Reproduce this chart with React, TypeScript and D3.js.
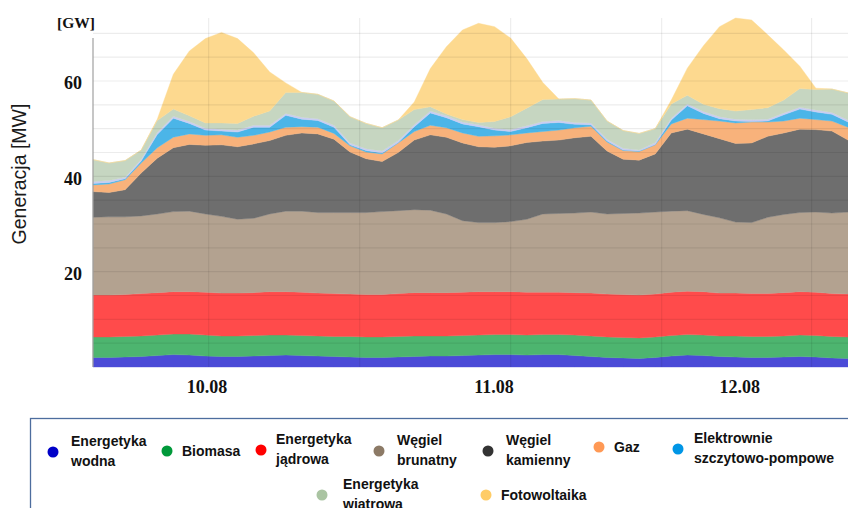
import { useEffect, useRef } from "react";
import * as d3 from "d3";

// samples every 1.5 h starting 10.08 00:00, values in GW
const hours = d3.range(48).map((i) => i * 1.5);

const hydro = [2.0, 2.0, 2.1, 2.2, 2.4, 2.6, 2.5, 2.3, 2.2, 2.2, 2.3, 2.4, 2.5, 2.4, 2.3, 2.2, 2.1, 2.0, 2.0, 2.1, 2.2, 2.3, 2.3, 2.4, 2.5, 2.6, 2.6, 2.5, 2.6, 2.6, 2.4, 2.2, 2.0, 1.9, 1.8, 2.0, 2.3, 2.5, 2.4, 2.2, 2.1, 2.0, 2.0, 2.1, 2.2, 2.1, 1.9, 1.8];
const biomass = [4.3, 4.3, 4.3, 4.3, 4.3, 4.3, 4.4, 4.4, 4.3, 4.3, 4.3, 4.3, 4.2, 4.2, 4.2, 4.2, 4.3, 4.3, 4.3, 4.3, 4.3, 4.2, 4.2, 4.2, 4.2, 4.2, 4.2, 4.2, 4.2, 4.2, 4.3, 4.3, 4.3, 4.3, 4.3, 4.3, 4.3, 4.3, 4.3, 4.3, 4.4, 4.4, 4.4, 4.4, 4.5, 4.5, 4.5, 4.5];
const nuclear = [8.8, 8.8, 8.8, 8.9, 8.9, 8.9, 8.9, 9.0, 9.0, 9.0, 9.0, 9.1, 9.1, 9.1, 9.0, 9.0, 8.9, 8.9, 8.9, 9.0, 9.1, 9.1, 9.1, 9.1, 9.1, 9.0, 9.0, 9.0, 8.9, 8.9, 8.9, 9.0, 9.0, 9.0, 9.0, 9.0, 9.1, 9.1, 9.1, 9.0, 9.0, 9.0, 9.0, 9.1, 9.1, 9.1, 9.0, 9.0];
const lignite = [16.3, 16.4, 16.3, 16.3, 16.5, 16.8, 16.9, 16.4, 16.1, 15.5, 15.6, 16.3, 16.9, 17.0, 16.9, 17.0, 17.1, 17.2, 17.4, 17.4, 17.4, 17.3, 16.5, 15.0, 14.5, 14.5, 14.7, 15.3, 16.4, 16.5, 16.7, 17.0, 16.8, 17.0, 17.2, 17.2, 17.0, 16.9, 16.2, 15.8, 14.9, 14.9, 16.0, 16.4, 16.6, 16.8, 16.9, 17.2];
const hardCoal = [5.4, 5.1, 5.7, 9.0, 11.7, 13.4, 14.0, 14.4, 15.0, 15.2, 15.6, 15.4, 15.9, 16.4, 16.5, 15.4, 12.7, 11.3, 10.5, 12.2, 14.6, 15.8, 16.1, 16.3, 15.9, 15.8, 15.9, 16.1, 15.3, 15.4, 15.8, 15.9, 13.2, 11.4, 11.1, 12.2, 16.4, 17.1, 16.9, 16.6, 16.5, 16.7, 17.0, 17.1, 17.5, 17.3, 17.2, 15.1];
const gas = [1.4, 1.8, 2.1, 2.1, 2.2, 2.2, 2.2, 2.1, 2.1, 2.0, 1.8, 1.8, 1.7, 1.3, 1.4, 1.2, 1.3, 1.4, 1.6, 2.0, 1.8, 2.0, 2.0, 2.1, 2.2, 2.4, 2.3, 2.0, 2.0, 2.1, 2.1, 2.1, 1.9, 1.8, 1.8, 1.9, 1.9, 2.3, 3.0, 3.7, 4.3, 4.4, 3.0, 2.5, 2.3, 2.1, 2.1, 2.7];
const pumped = [0.3, 0.3, 0.2, 0.4, 2.8, 4.0, 2.2, 1.1, 0.8, 1.1, 1.7, 1.0, 2.5, 1.6, 1.4, 1.3, 0.2, 0.3, 0.2, 0.1, 1.0, 2.6, 2.1, 1.9, 2.0, 1.2, 0.7, 1.1, 1.7, 1.6, 0.7, 0.3, 0.2, 0.1, 0.1, 0.1, 0.8, 2.6, 1.3, 0.5, 0.4, 0.1, 0.2, 1.3, 1.9, 1.6, 1.4, 1.1];
const other = [0.4, 0.4, 0.3, 0.4, 0.4, 0.4, 0.4, 0.4, 0.4, 0.4, 0.4, 0.4, 0.4, 0.4, 0.4, 0.4, 0.4, 0.4, 0.4, 0.4, 0.4, 0.4, 0.4, 0.4, 0.4, 0.4, 0.4, 0.4, 0.4, 0.4, 0.4, 0.4, 0.4, 0.4, 0.2, 0.4, 0.4, 0.4, 0.4, 0.4, 0.4, 0.4, 0.4, 0.4, 0.4, 0.4, 0.4, 0.4];
const wind = [4.6, 3.7, 3.5, 1.9, 2.5, 1.5, 1.2, 1.1, 1.3, 1.4, 1.9, 3.0, 4.4, 5.2, 5.1, 5.1, 5.5, 5.3, 4.9, 4.3, 3.2, 0.9, 0.4, 0.5, 0.5, 1.4, 2.7, 3.7, 4.6, 4.5, 5.0, 4.8, 3.8, 3.7, 3.5, 2.9, 3.0, 1.8, 1.5, 1.7, 1.7, 2.1, 2.4, 2.7, 3.9, 4.3, 4.9, 5.7];
const solar = [0, 0, 0, 0, 0.3, 7.3, 13.6, 17.7, 19.0, 17.8, 13.3, 8.2, 2.0, 0, 0, 0, 0, 0, 0, 0, 1.6, 8.0, 14.1, 18.8, 20.8, 19.9, 16.5, 10.4, 3.6, 0, 0, 0, 0, 0, 0, 0, 0.8, 5.7, 12.3, 17.2, 19.5, 18.8, 15.3, 10.5, 4.7, 0.3, 0, 0];

const seriesKeys = ["hydro", "biomass", "nuclear", "lignite", "hardCoal", "gas", "pumped", "other", "wind", "solar"];
const seriesValues = [hydro, biomass, nuclear, lignite, hardCoal, gas, pumped, other, wind, solar];
const seriesColors = ["#4b4bd7", "#4db56f", "#ff4b4b", "#b3a290", "#6e6e6e", "#f8b27b", "#4bb5e8", "#c9cdf2", "#c6d6c1", "#fdd98f"];

const yTickLabels = [20, 40, 60];
const gridValues = [5, 10, 15, 20, 25, 30, 35, 40, 45, 50, 55, 60, 65, 70];
const dayLabels = ["10.08", "11.08", "12.08"];
const dayLabelHours = [10.65, 37.45, 60.4];
const vGridHours = [10.8, 24.9, 39.0, 53.1, 67.1];

const legendLabels = [
  ["Energetyka", "wodna"],
  ["Biomasa"],
  ["Energetyka", "jądrowa"],
  ["Węgiel", "brunatny"],
  ["Węgiel", "kamienny"],
  ["Gaz"],
  ["Elektrownie", "szczytowo-pompowe"],
  ["Energetyka", "wiatrowa"],
  ["Fotowoltaika"],
];
const legendColors = ["#0000c8", "#00993a", "#ff0000", "#8c7a66", "#333333", "#ff9955", "#0096e6", "#aac4a2", "#ffcc66"];

// legend layout (dot centre, text start)
const legendSlots = [
  { cx: 53, cy: 452, tx: 71 },
  { cx: 167, cy: 451, tx: 182 },
  { cx: 261, cy: 450, tx: 276 },
  { cx: 379, cy: 451, tx: 397 },
  { cx: 488, cy: 451, tx: 506 },
  { cx: 599, cy: 447, tx: 614 },
  { cx: 678, cy: 449, tx: 694 },
  { cx: 322, cy: 495, tx: 343 },
  { cx: 486, cy: 495, tx: 501 },
];

const App = () => {
  const svgRef = useRef<SVGSVGElement>(null);

  useEffect(() => {
    const svg = d3.select(svgRef.current);
    svg.selectAll("*").remove();

    const x = d3.scaleLinear().domain([0, 70.5]).range([93, 848]);
    const y = d3.scaleLinear().domain([0, 70]).range([367, 33.33]);

    const rows = hours.map((h, i) => {
      const row: any = { h };
      seriesKeys.forEach((k, j) => (row[k] = seriesValues[j][i]));
      return row;
    });

    const layers = d3.stack().keys(seriesKeys)(rows);

    const area = d3
      .area<any>()
      .x((d) => x(d.data.h))
      .y0((d) => y(d[0]))
      .y1((d) => y(d[1]))
      .curve(d3.curveLinear);

    svg
      .append("g")
      .selectAll("path")
      .data(layers)
      .join("path")
      .attr("d", area)
      .attr("fill", (d, i) => seriesColors[i])
      .attr("stroke", (d, i) => seriesColors[i])
      .attr("stroke-width", 0.4);

    // grid on top, faint
    svg
      .append("g")
      .selectAll("line")
      .data(gridValues)
      .join("line")
      .attr("x1", x(0))
      .attr("x2", x(70.5))
      .attr("y1", (d) => y(d))
      .attr("y2", (d) => y(d))
      .attr("stroke", "#000")
      .attr("stroke-opacity", 0.075)
      .attr("stroke-width", 1.2);

    svg
      .append("g")
      .selectAll("line")
      .data(vGridHours)
      .join("line")
      .attr("x1", (d) => x(d))
      .attr("x2", (d) => x(d))
      .attr("y1", 18)
      .attr("y2", y(0))
      .attr("stroke", "#000")
      .attr("stroke-opacity", 0.075)
      .attr("stroke-width", 1.2);

    // y axis line
    svg
      .append("line")
      .attr("x1", x(0))
      .attr("x2", x(0))
      .attr("y1", 38)
      .attr("y2", y(0))
      .attr("stroke", "#a0a0a0")
      .attr("stroke-width", 1.2);

    svg
      .append("g")
      .selectAll("text")
      .data(yTickLabels)
      .join("text")
      .attr("x", 82)
      .attr("y", (d) => y(d) + 2)
      .attr("dy", "0.35em")
      .attr("text-anchor", "end")
      .style("font-family", "'Liberation Serif', serif")
      .style("font-weight", "bold")
      .style("font-size", "18px")
      .style("fill", "#111")
      .text((d) => d);

    svg
      .append("text")
      .attr("x", 76)
      .attr("y", 28)
      .attr("text-anchor", "middle")
      .style("font-family", "'Liberation Serif', serif")
      .style("font-weight", "bold")
      .style("font-size", "15.5px")
      .style("fill", "#111")
      .text("[GW]");

    svg
      .append("text")
      .attr("transform", "translate(26,174) rotate(-90)")
      .attr("text-anchor", "middle")
      .style("font-family", "'Liberation Sans', sans-serif")
      .style("font-size", "19.5px")
      .style("fill", "#1a1a1a")
      .text("Generacja [MW]");

    svg
      .append("g")
      .selectAll("text")
      .data(dayLabels)
      .join("text")
      .attr("x", (d, i) => x(dayLabelHours[i]))
      .attr("y", 393)
      .attr("text-anchor", "middle")
      .style("font-family", "'Liberation Serif', serif")
      .style("font-weight", "bold")
      .style("font-size", "18px")
      .style("fill", "#111")
      .text((d) => d);

    // legend
    svg
      .append("rect")
      .attr("x", 30.5)
      .attr("y", 418.5)
      .attr("width", 840)
      .attr("height", 120)
      .attr("fill", "none")
      .attr("stroke", "#4d6d9e")
      .attr("stroke-width", 1.3);

    const items = svg
      .append("g")
      .selectAll("g")
      .data(legendLabels)
      .join("g");

    items
      .append("circle")
      .attr("cx", (d, i) => legendSlots[i].cx)
      .attr("cy", (d, i) => legendSlots[i].cy)
      .attr("r", 5.5)
      .attr("fill", (d, i) => legendColors[i]);

    items.each(function (lines, i) {
      const s = legendSlots[i];
      const g = d3.select(this);
      lines.forEach((line, j) => {
        const base = lines.length === 1 ? s.cy + 5 : s.cy - 6 + j * 20;
        g.append("text")
          .attr("x", s.tx)
          .attr("y", base)
          .style("font-family", "'Liberation Sans', sans-serif")
          .style("font-weight", "bold")
          .style("font-size", "14px")
          .style("fill", "#111")
          .text(line);
      });
    });
  }, []);

  return (
    <svg
      ref={svgRef}
      width={848}
      height={508}
      style={{ position: "absolute", left: 0, top: 0, background: "#fff" }}
    ></svg>
  );
};

export default App;
